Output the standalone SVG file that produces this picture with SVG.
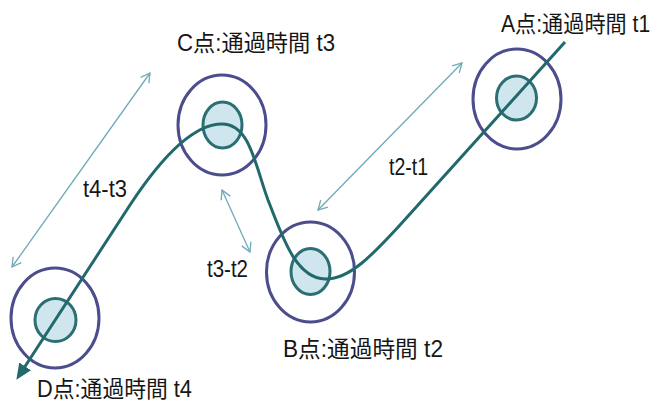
<svg xmlns="http://www.w3.org/2000/svg" width="658" height="407" viewBox="0 0 658 407">
  <style>
    .outer { fill: none; stroke: #4b4d8c; stroke-width: 3; }
    .inner { fill: #cfe6ee; stroke: #2b6f73; stroke-width: 3; }
    .route { fill: none; stroke: #22696d; stroke-width: 3; }
    .dim { fill: none; stroke: #6fa9b8; stroke-width: 1.3; }
    .lbl { font-family: "Liberation Sans", "Noto Sans CJK JP", sans-serif; font-size: 23px; fill: #161616; }
  </style>
  <defs>
    <marker id="open" viewBox="0 0 12 12" refX="11" refY="6" markerWidth="12" markerHeight="12" markerUnits="userSpaceOnUse" orient="auto-start-reverse">
      <path d="M2,1 L11,6 L2,11" fill="none" stroke="#6fa9b8" stroke-width="1.3"/>
    </marker>
    <marker id="solid" viewBox="0 0 16 14" refX="2" refY="7" markerWidth="16" markerHeight="14" markerUnits="userSpaceOnUse" orient="auto">
      <path d="M0,0 L16,7 L0,14 Z" fill="#22696d"/>
    </marker>
  </defs>

  <g id="nodeA">
    <ellipse class="outer" cx="517" cy="99" rx="44" ry="50"/>
    <ellipse class="inner" cx="516.5" cy="98" rx="20" ry="22"/>
    <text class="lbl" transform="translate(501,32) scale(0.92,1)" x="0" y="0">A点:通過時間 t1</text>
  </g>
  <g id="nodeB">
    <ellipse class="outer" cx="310.5" cy="272" rx="44" ry="50"/>
    <ellipse class="inner" cx="310.5" cy="271.5" rx="19.5" ry="23"/>
    <text class="lbl" x="283" y="357" textLength="160" lengthAdjust="spacingAndGlyphs">B点:通過時間 t2</text>
  </g>
  <g id="nodeC">
    <ellipse class="outer" cx="222" cy="125" rx="44" ry="50"/>
    <ellipse class="inner" cx="222.5" cy="125" rx="19.5" ry="23"/>
    <text class="lbl" x="177" y="51" textLength="158" lengthAdjust="spacingAndGlyphs">C点:通過時間 t3</text>
  </g>
  <g id="nodeD">
    <ellipse class="outer" cx="55" cy="318" rx="44" ry="50"/>
    <ellipse class="inner" cx="55.5" cy="320" rx="20.5" ry="21.5"/>
    <text class="lbl" x="37" y="397" textLength="155" lengthAdjust="spacingAndGlyphs">D点:通過時間 t4</text>
  </g>

  <g id="connectors">
    <path class="route" d="M565,42 L400,225 C375,252 350,280 325,279 C295,278 282,235 268,200 C255,165 250,124 222,124 C190,124 157,164 130,205 L24,368" marker-end="url(#solid)"/>
    <line class="dim" x1="150" y1="73" x2="12" y2="267" marker-start="url(#open)" marker-end="url(#open)"/>
    <line class="dim" x1="462" y1="63" x2="318" y2="210" marker-start="url(#open)" marker-end="url(#open)"/>
    <line class="dim" x1="222" y1="190" x2="250" y2="252" marker-start="url(#open)" marker-end="url(#open)"/>
  </g>

  <g id="labels">
    <text class="lbl" x="83" y="197" textLength="44" lengthAdjust="spacingAndGlyphs">t4-t3</text>
    <text class="lbl" x="389" y="175" textLength="39" lengthAdjust="spacingAndGlyphs">t2-t1</text>
    <text class="lbl" x="207" y="277" textLength="41" lengthAdjust="spacingAndGlyphs">t3-t2</text>
  </g>
</svg>
